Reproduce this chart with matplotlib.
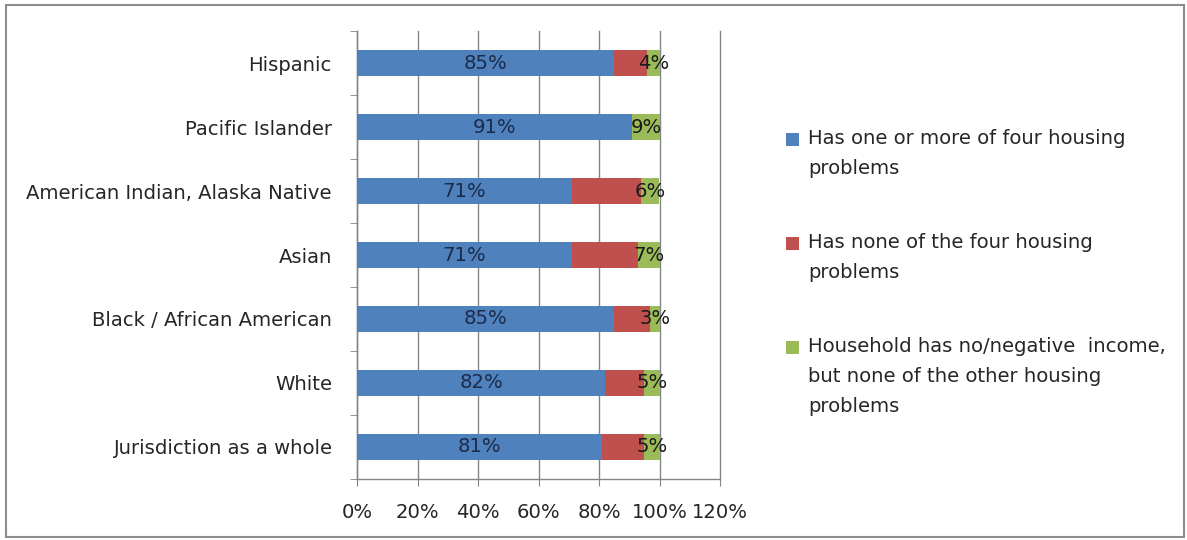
import matplotlib
matplotlib.use('Agg')
import matplotlib.pyplot as plt
import matplotlib.patches as mpatches
import matplotlib.ticker as mticker
import numpy as np

# ── Data ─────────────────────────────────────────────────────────────────────
groups = ['Hispanic', 'Pacific Islander', 'American Indian, Alaska Native',
          'Asian', 'Black / African American', 'White', 'Jurisdiction as a whole']
has_problems  = [85, 91, 71, 71, 85, 82, 81]
no_problems   = [11, 0, 23, 22, 12, 13, 14]
no_income     = [4, 9, 6, 7, 3, 5, 5]

series_names = ['Has one or more of four housing\nproblems',
                'Has none of the four housing\nproblems',
                'Household has no/negative  income,\nbut none of the other housing\nproblems']
colors = ['#4F81BD', '#C0504D', '#9BBB59']

FONT = 'DejaVu Sans'
FS = 14.1
TXT = '#262626'
W, H = 1187, 540

# ── Figure ───────────────────────────────────────────────────────────────────
fig = plt.figure(figsize=(W / 100, H / 100), dpi=100)
fig.patch.set_facecolor('white')
ax = fig.add_axes([357 / W, 61 / H, 363 / W, 448 / H])

y = np.arange(len(groups))[::-1]
left = np.zeros(len(groups))
vals = [has_problems, no_problems, no_income]
for v, c in zip(vals, colors):
    ax.barh(y, v, left=left, height=0.4, color=c, zorder=3)
    left = left + np.array(v)

# data labels: blue and green segments only
for yi, a, b, g in zip(y, has_problems, no_problems, no_income):
    ax.text(a / 2, yi, f'{a}%', ha='center', va='center', fontsize=FS,
            family=FONT, color='#1c2b4a', zorder=4)
    ax.text(a + b + g / 2, yi, f'{g}%', ha='center', va='center', fontsize=FS,
            family=FONT, color='#1a1a1a', zorder=4)

ax.set_xlim(0, 120)
ax.set_ylim(-0.5, len(groups) - 0.5)
ax.xaxis.set_major_locator(mticker.MultipleLocator(20))
ax.xaxis.set_major_formatter(mticker.FuncFormatter(lambda v, p: f'{v:.0f}%'))
ax.grid(axis='x', color='#858585', linewidth=1.0, zorder=1)
for gl in ax.get_xgridlines():
    gl.set_clip_on(False)

ax.set_yticks(y)
ax.set_yticklabels(groups)
ax.set_yticks(np.arange(len(groups) + 1) - 0.5, minor=True)
ax.tick_params(axis='y', which='major', length=0, pad=18)
ax.tick_params(axis='y', which='minor', length=5, color='#858585', direction='out')
ax.tick_params(axis='x', length=5, color='#858585', direction='out', pad=12)
for lab in ax.get_xticklabels() + ax.get_yticklabels():
    lab.set_fontfamily(FONT)
    lab.set_fontsize(FS)
    lab.set_color(TXT)

for s in ['top', 'right']:
    ax.spines[s].set_visible(False)
for s in ['left', 'bottom']:
    ax.spines[s].set_color('#858585')
    ax.spines[s].set_linewidth(1.0)

# ── Legend (square aligned with first text line) ─────────────────────────────
leg_y = [139, 243, 347]
for name, c, ly in zip(series_names, colors, leg_y):
    fig.patches.append(mpatches.Rectangle((786 / W, 1 - (ly + 7) / H), 13 / W, 13 / H,
                                          transform=fig.transFigure, facecolor=c,
                                          edgecolor='none'))
    for k, line in enumerate(name.split('\n')):
        fig.text(808 / W, 1 - (ly + 30 * k) / H, line, ha='left', va='center',
                 fontsize=FS, family=FONT, color=TXT)

# outer chart border
fig.patches.append(mpatches.Rectangle((6 / W, 3 / H), 1178 / W, 532 / H,
                                      transform=fig.transFigure, facecolor='none',
                                      edgecolor='#8c8c8c', linewidth=1.5))

fig.savefig('out.png', dpi=100)
